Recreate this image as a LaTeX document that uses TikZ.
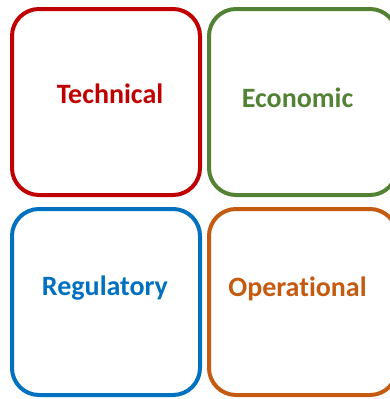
\documentclass[tikz,border=0pt]{standalone}
\usepackage{fontspec}
\setmainfont{Carlito}[Ligatures=NoCommon]
\definecolor{techred}{HTML}{C00000}
\definecolor{econgreen}{HTML}{548235}
\definecolor{regblue}{HTML}{0070C0}
\definecolor{operorange}{HTML}{C55A11}

\begin{document}
\begin{tikzpicture}[x=1pt,y=-1pt,
		box/.style={draw,line width=4pt,rounded corners=27pt,minimum width=188pt,minimum height=186pt,inner sep=0pt},
		lbl/.style={anchor=base,font=\fontsize{28}{33}\selectfont\bfseries}]

		\useasboundingbox (0,0) rectangle (390,399);
		\clip (0,0) rectangle (390,399);

		% the four boxes
		\node [box,techred] (tech) at (106,102) {};
		\node [box,econgreen] (econ) at (303,102) {};
		\node [box,regblue] (reg) at (106,302) {};
		\node [box,operorange] (oper) at (303,302) {};

		% their labels
		\node [lbl,techred] (techtxt) at (110,103) {Technical};
		\node [lbl,econgreen] (econtxt) at (297.5,107) {Economic};
		\node [lbl,regblue] (regtxt) at (105,295) {Regulatory};
		\node [lbl,operorange] (opertxt) at (297.5,296) {Operational};
	\end{tikzpicture}
\end{document}
